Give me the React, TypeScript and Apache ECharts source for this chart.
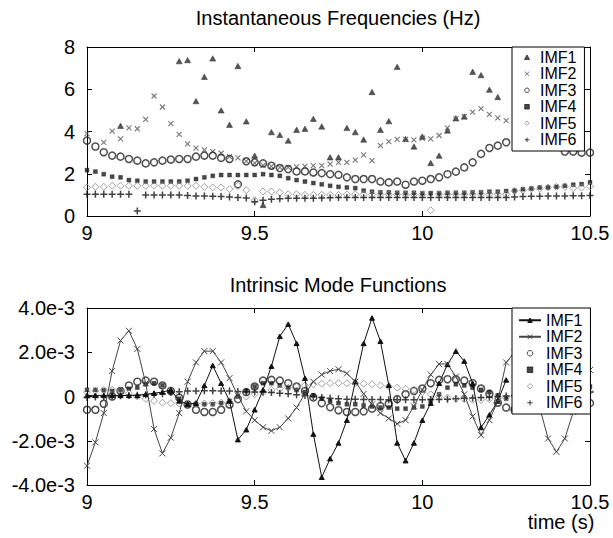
import React, { useEffect, useRef } from 'react';
import * as echarts from 'echarts';

// sample times (s)
const timeS = [
  9, 9.025, 9.05, 9.075, 9.1, 9.125, 9.15, 9.175, 9.2, 9.225,
  9.25, 9.275, 9.3, 9.325, 9.35, 9.375, 9.4, 9.425, 9.45, 9.475,
  9.5, 9.525, 9.55, 9.575, 9.6, 9.625, 9.65, 9.675, 9.7, 9.725,
  9.75, 9.775, 9.8, 9.825, 9.85, 9.875, 9.9, 9.925, 9.95, 9.975,
  10, 10.025, 10.05, 10.075, 10.1, 10.125, 10.15, 10.175, 10.2, 10.225,
  10.25, 10.275, 10.3, 10.325, 10.35, 10.375, 10.4, 10.425, 10.45, 10.475, 10.5,
];

const imfNames = ['IMF1', 'IMF2', 'IMF3', 'IMF4', 'IMF5', 'IMF6'];

// Instantaneous frequencies (Hz)
const freqImf1 = [
  null, null, null, null, 4.27, null, null, null, null, null,
  null, 7.33, 7.38, 5.44, 6.59, 7.46, 5.0, 4.32, 7.1, 4.48,
  2.86, 0.52, 3.97, 3.84, 3.57, 4.08, 4.13, 4.6, 4.24, 2.78,
  2.78, 4.17, 3.97, 3.62, 5.87, 4.08, 4.49, 7.06, 3.65, 3.29,
  3.76, 2.51, 2.86, 4.05, 4.63, 4.71, 6.83, 6.67, 5.98, 5.63,
  null, null, null, null, null, null, null, null, null, null, null,
];
const freqImf2 = [
  3.9, null, 3.49, 4.02, 3.65, 4.17, 4.13, 4.57, 5.68, 5.16,
  4.37, 3.86, 3.41, 3.21, 3.13, 3.05, 2.97, 2.81, 2.75, 2.6,
  2.5, 2.4, 2.35, 2.3, 2.3, 2.33, 2.35, 2.38, 2.38, 2.46,
  2.54, 2.54, 2.65, 2.89, 2.62, 3.33, 3.52, 3.63, 3.63, 3.6,
  3.68, 3.65, 3.81, 4.17, 4.6, 4.71, 4.92, 5.08, 4.81, 4.65,
  4.52, null, null, null, null, null, null, null, null, null, null,
];
const freqImf3 = [
  3.57, 3.29, 3.02, 2.86, 2.81, 2.7, 2.62, 2.49, 2.54, 2.62,
  2.67, 2.7, 2.7, 2.81, 2.86, 2.86, 2.75, 2.7, 1.5, 2.59,
  2.54, 2.49, 2.38, 2.27, 2.22, 2.11, 2.11, 2.06, 2.03, 1.98,
  1.95, 1.83, 1.75, 1.75, 1.75, 1.63, 1.59, 1.63, 1.48, 1.63,
  1.67, 1.75, 1.83, 1.98, 2.1, 2.3, 2.54, 2.94, 3.22, 3.33,
  3.49, null, null, null, null, null, null, 3.05, 3.05, 3.0, 3.0,
];
const freqImf4 = [
  2.17, 2.1, 1.98, 1.86, 1.83, 1.7, 1.67, 1.63, 1.63, 1.63,
  1.63, 1.63, 1.67, 1.75, 1.83, 1.9, 1.94, 1.94, 1.94, 1.94,
  1.94, 1.98, 1.94, 1.9, 1.79, 1.7, 1.63, 1.56, 1.5, 1.43,
  1.38, 1.35, 1.32, 1.2, 1.15, 1.12, 1.12, 1.1, 1.1, 1.1,
  1.08, 1.08, 1.08, 1.1, 1.1, 1.1, 1.12, 1.12, 1.15, 1.15,
  1.18, 1.2, 1.27, 1.3, 1.35, 1.35, 1.38, 1.43, 1.48, 1.51, 1.59,
];
const freqImf5 = [
  1.35, 1.38, 1.38, 1.43, 1.43, 1.43, 1.43, 1.43, 1.43, 1.43,
  1.43, 1.43, 1.43, 1.43, 1.38, 1.35, 1.35, 1.27, 1.43, 1.22,
  0.75, 1.16, 1.16, 1.11, 1.03, 1.03, 1.0, 1.0, 1.0, 1.0,
  1.0, 1.02, 1.02, 1.02, 1.02, 1.02, 1.02, 1.02, 1.02, 1.02,
  1.02, 0.27, 1.03, 1.03, 1.03, 1.03, 1.03, 1.03, 1.03, 1.03,
  1.03, 1.19, 1.22, 1.27, 1.3, 1.35, 1.38, 1.38, 1.32, 1.35, 1.4,
];
const freqImf6 = [
  1.03, 1.03, 1.03, 1.03, 1.03, 1.03, 0.24, 1.0, 1.0, 1.0,
  1.0, 1.0, 0.97, 0.95, 0.95, 0.93, 0.92, 0.9, 0.87, 0.85,
  0.68, 0.75, 0.79, 0.82, 0.84, 0.84, 0.84, 0.84, 0.85, 0.86,
  0.87, 0.88, 0.88, 0.88, 0.88, 0.88, 0.88, 0.88, 0.88, 0.88,
  0.88, 0.88, 0.88, 0.88, 0.88, 0.88, 0.88, 0.88, 0.88, 0.88,
  0.88, 0.9, 0.92, 0.93, 0.94, 0.95, 0.95, 0.95, 0.96, 0.96, 0.97,
];

// Intrinsic mode functions, in units of 1e-3
const modeImf1 = [
  0.05, 0.05, 0.05, 0.05, 0.05, 0.05, 0.05, 0.1, 0.15, 0.2,
  0.3, -0.2, -0.35, -0.3, 0.5, 1.4, 0.6, -0.2, -1.95, -1.5,
  -0.6, 0.3, 1.37, 2.72, 3.27, 2.4, 0.83, -1.7, -3.65, -2.81,
  -2.1, -1.07, 0.67, 2.4, 3.55, 2.5, 0.51, -2.1, -2.9, -2.1,
  -1.07, -0.3, 0.6, 1.45, 2.05, 1.6, 0.6, -1.4, -0.83, -0.2,
  0.75, null, null, null, null, null, null, null, null, null, null,
];
const modeImf2 = [
  -3.13, -2.07, -0.75, 1.15, 2.53, 2.97, 2.15, 0.6, -1.47, -2.57,
  -1.86, -0.75, 0.67, 1.54, 2.05, 2.05, 1.54, 0.83, 0.04, -0.67,
  -1.07, -1.39, -1.55, -1.39, -0.99, -0.5, 0.12, 0.67, 0.99, 1.15,
  1.23, 1.04, 0.67, 0.12, -0.36, -0.75, -0.99, -1.23, -1.07, -0.44,
  0.3, 0.99, 1.47, 1.47, 0.9, 0.1, -0.9, -1.75, -1.07, -0.2,
  1.54, 2.0, 1.6, 0.6, -0.5, -1.9, -2.5, -1.9, -0.7, 0.4, 1.2,
];
const modeImf3 = [
  -0.6, -0.6, -0.33, 0.0, 0.25, 0.5, 0.67, 0.72, 0.67, 0.5,
  0.25, -0.05, -0.36, -0.6, -0.7, -0.7, -0.6, -0.36, -0.12, 0.2,
  0.45, 0.72, 0.75, 0.72, 0.6, 0.45, 0.25, -0.04, -0.3, -0.48,
  -0.62, -0.7, -0.7, -0.67, -0.55, -0.44, -0.33, -0.12, 0.1, 0.25,
  0.36, 0.6, 0.75, 0.78, 0.78, 0.72, 0.6, 0.36, 0.12, -0.28,
  -0.5, -0.6, -0.5, -0.3, 0.1, 0.5, 0.7, 0.7, 0.5, 0.1, -0.3,
];
const modeImf4 = [
  0.3, 0.3, 0.28, 0.25, 0.3, 0.35, 0.4, 0.55, 0.6, 0.5,
  0.2, -0.1, -0.3, -0.35, -0.35, -0.35, -0.3, -0.2, 0.0, 0.25,
  0.45, 0.6, 0.6, 0.5, 0.4, 0.3, 0.2, 0.05, -0.1, -0.2,
  -0.3, -0.35, -0.35, -0.4, -0.45, -0.5, -0.5, -0.55, -0.55, -0.5,
  -0.45, -0.2, 0.1, 0.4, 0.55, 0.5, 0.4, 0.3, 0.2, 0.05,
  -0.1, -0.3, -0.4, -0.45, -0.4, -0.3, -0.1, 0.1, 0.3, 0.4, 0.45,
];
const modeImf5 = [
  0.2, 0.25, 0.3, 0.3, 0.25, 0.15, 0.0, -0.1, -0.2, -0.28,
  -0.3, -0.32, -0.33, -0.33, -0.32, -0.3, -0.28, -0.25, -0.15, 0.0,
  0.1, 0.2, 0.3, 0.35, 0.4, 0.45, 0.5, 0.55, 0.58, 0.6,
  0.6, 0.6, 0.6, 0.58, 0.55, 0.5, 0.45, 0.4, 0.35, 0.3,
  0.2, 0.1, 0.0, -0.05, -0.1, -0.12, -0.15, -0.15, -0.12, -0.1,
  -0.05, 0.0, 0.05, 0.1, 0.15, 0.2, 0.22, 0.25, 0.25, 0.25, 0.22,
];
const modeImf6 = [
  -0.05, -0.02, 0.0, 0.02, 0.03, 0.05, 0.06, 0.08, 0.1, 0.12,
  0.18, 0.22, 0.25, 0.25, 0.26, 0.26, 0.25, 0.25, 0.23, 0.22,
  0.2, 0.2, 0.18, 0.15, 0.12, 0.08, 0.05, 0.0, -0.05, -0.08,
  -0.1, -0.12, -0.12, -0.13, -0.13, -0.14, -0.15, -0.15, -0.15, -0.15,
  -0.15, -0.14, -0.13, -0.12, -0.1, -0.08, -0.07, -0.05, -0.03, 0.0,
  0.02, 0.05, 0.07, 0.1, 0.12, 0.15, 0.17, 0.2, 0.2, 0.2, 0.2,
];

const FONT = '"Liberation Sans", Arial, Helvetica, sans-serif';

const TRI = 'path://M5,0L10,9L0,9Z';
const CROSS = 'path://M0,0L10,10M10,0L0,10';
const SQUARE = 'path://M0,0L10,0L10,10L0,10Z';
const DIAMOND = 'path://M5,0L10,5L5,10L0,5Z';
const PLUS = 'path://M5,0L5,10M0,5L10,5';

const markers = [
  { symbol: TRI, size: 6, color: '#2a2a2a', border: '#2a2a2a', bw: 0.6 },
  { symbol: CROSS, size: 5, color: '#555', border: '#555', bw: 1.1 },
  { symbol: 'circle', size: 7, color: 'rgba(0,0,0,0)', border: '#222', bw: 1.5 },
  { symbol: SQUARE, size: 4, color: '#1a1a1a', border: '#1a1a1a', bw: 0.4 },
  { symbol: DIAMOND, size: 7, color: 'rgba(0,0,0,0)', border: '#888', bw: 1 },
  { symbol: PLUS, size: 7, color: '#111', border: '#111', bw: 1.5 },
];

function scatterPairs(values: (number | null)[]) {
  const out: number[][] = [];
  values.forEach((v, i) => {
    if (v !== null) out.push([timeS[i], v]);
  });
  return out;
}
function linePairs(values: (number | null)[]) {
  return values.map((v, i) => [timeS[i], v === null ? '-' : v]);
}

export default function App() {
  const ref = useRef<HTMLDivElement>(null);
  useEffect(() => {
    if (!ref.current) return;
    const chart = echarts.init(ref.current, undefined, { renderer: 'svg' });

    const axisBase = {
      type: 'value',
      axisLine: { show: true, onZero: false, lineStyle: { color: '#000', width: 1 } },
      axisTick: { show: true, inside: true, length: 5, lineStyle: { color: '#000' } },
      splitLine: { show: false },
    };
    const lbl = { color: '#000', fontSize: 20, fontFamily: FONT };

    const xAxes = [0, 1].flatMap((g) => [
      { ...axisBase, gridIndex: g, min: 9, max: 10.5, interval: 0.5, position: 'bottom', axisLabel: { ...lbl, margin: 7 } },
      { ...axisBase, gridIndex: g, min: 9, max: 10.5, interval: 0.5, position: 'top', axisLabel: { show: false } },
    ]);
    const yAxes = [
      { ...axisBase, gridIndex: 0, min: 0, max: 8, interval: 2, position: 'left', axisLabel: { ...lbl, margin: 12 } },
      { ...axisBase, gridIndex: 0, min: 0, max: 8, interval: 2, position: 'right', axisLabel: { show: false } },
      {
        ...axisBase, gridIndex: 1, min: -4, max: 4, interval: 2, position: 'left',
        axisLabel: { ...lbl, margin: 12, formatter: (v: number) => (v === 0 ? '0' : v.toFixed(1) + 'e-3') },
      },
      { ...axisBase, gridIndex: 1, min: -4, max: 4, interval: 2, position: 'right', axisLabel: { show: false } },
    ];

    const freqSets = [freqImf1, freqImf2, freqImf3, freqImf4, freqImf5, freqImf6];
    const modeSets = [modeImf1, modeImf2, modeImf3, modeImf4, modeImf5, modeImf6];

    const topSeries = freqSets.map((vals, i) => ({
      type: 'scatter',
      name: imfNames[i],
      xAxisIndex: 0,
      yAxisIndex: 0,
      symbol: markers[i].symbol,
      symbolSize: markers[i].size,
      symbolKeepAspect: true,
      itemStyle: { color: markers[i].color, borderColor: markers[i].border, borderWidth: markers[i].bw },
      data: scatterPairs(vals),
      z: 2,
    }));

    const bottomSeries = modeSets.map((vals, i) => {
      const m = markers[i];
      if (i < 2) {
        const c = i === 0 ? '#111' : '#444';
        return {
          type: 'line',
          name: imfNames[i] + '_b',
          xAxisIndex: 2,
          yAxisIndex: 2,
          symbol: m.symbol,
          symbolSize: i === 0 ? 5 : 6,
          symbolKeepAspect: true,
          showSymbol: true,
          lineStyle: { color: c, width: 1 },
          itemStyle: { color: c, borderColor: c, borderWidth: 1 },
          data: linePairs(vals),
          z: 3,
        };
      }
      return {
        type: 'scatter',
        name: imfNames[i] + '_b',
        xAxisIndex: 2,
        yAxisIndex: 2,
        symbol: m.symbol,
        symbolSize: m.size,
        symbolKeepAspect: true,
        itemStyle: { color: m.color, borderColor: m.border, borderWidth: m.bw },
        data: scatterPairs(vals),
        z: 2,
      };
    });

    const legendText = { fontSize: 16, fontFamily: FONT, color: '#000', lineHeight: 16.5 };

    chart.setOption({
      animation: false,
      backgroundColor: '#fff',
      grid: [
        { left: 87, top: 47, width: 503, height: 169 },
        { left: 87, top: 308, width: 503, height: 177 },
      ],
      xAxis: xAxes,
      yAxis: yAxes,
      legend: [
        {
          data: imfNames,
          orient: 'vertical',
          left: 512,
          top: 47,
          padding: [2, 8, 3, 12],
          itemGap: 0,
          itemWidth: 16,
          itemHeight: 4.5,
          symbolKeepAspect: true,
          selectedMode: false,
          backgroundColor: '#fff',
          borderColor: '#000',
          borderWidth: 1,
          textStyle: legendText,
          itemStyle: { borderWidth: 1 },
          z: 10,
        },
        {
          data: imfNames.map((n) => n + '_b'),
          formatter: (n: string) => n.replace('_b', ''),
          orient: 'vertical',
          left: 512,
          top: 308,
          padding: [4, 8, 3, 6],
          itemGap: 0,
          itemWidth: 22,
          itemHeight: 5.5,
          symbolKeepAspect: true,
          selectedMode: false,
          backgroundColor: '#fff',
          borderColor: '#000',
          borderWidth: 1,
          textStyle: legendText,
          itemStyle: { borderWidth: 1 },
          z: 10,
        },
      ],
      graphic: [
        {
          type: 'text', x: 338, y: 18,
          style: { text: 'Instantaneous Frequencies (Hz)', fontSize: 20, fontFamily: FONT, fill: '#000', align: 'center', verticalAlign: 'middle' },
        },
        {
          type: 'text', x: 338, y: 285,
          style: { text: 'Intrinsic Mode Functions', fontSize: 20, fontFamily: FONT, fill: '#000', align: 'center', verticalAlign: 'middle' },
        },
        {
          type: 'text', x: 561, y: 522,
          style: { text: 'time (s)', fontSize: 20, fontFamily: FONT, fill: '#000', align: 'center', verticalAlign: 'middle' },
        },
      ],
      series: [...topSeries, ...bottomSeries],
    });
    return () => chart.dispose();
  }, []);

  return <div ref={ref} style={{ position: 'absolute', left: 0, top: 0, width: 613, height: 538 }} />;
}
